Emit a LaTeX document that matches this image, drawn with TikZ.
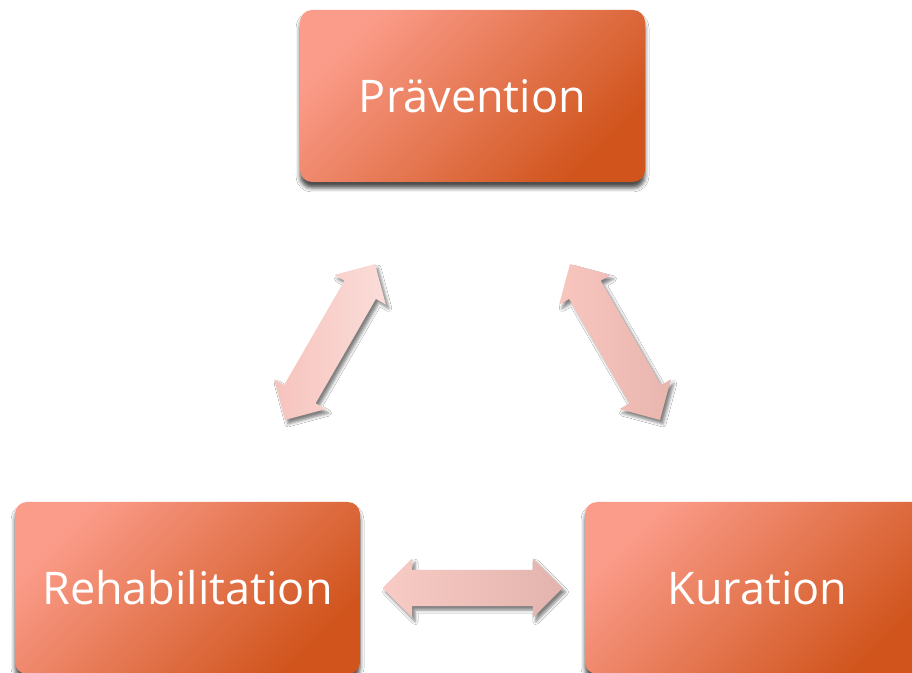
\documentclass[tikz,border=0pt]{standalone}
\usepackage{fontspec}
\setsansfont{Open Sans}
\usetikzlibrary{calc,shapes.arrows,shadows.blur}
\definecolor{boxlight}{HTML}{FB9C8A}
\definecolor{boxmid}{HTML}{F47C5E}
\definecolor{boxdark}{HTML}{D0541C}
\definecolor{arrA}{HTML}{F6C3BD}
\definecolor{arrB}{HTML}{FBDDD9}
\definecolor{arrC}{HTML}{F8C6BF}
\definecolor{arrD}{HTML}{E8B6AF}
\definecolor{arrE}{HTML}{F9CBC5}
\definecolor{arrF}{HTML}{E3B4AE}
\tikzset{
  phasebox/.style = {rectangle, rounded corners=12pt, minimum width=345pt,
    minimum height=172pt, inner sep=0pt, text=white,
    font=\sffamily\fontsize{45}{54}\selectfont,
    top color=boxlight, middle color=boxmid, bottom color=boxdark,
    shading angle=45,
    blur shadow={shadow xshift=0pt, shadow yshift=-6pt,
      shadow blur radius=4pt, shadow opacity=70}},% Kasten der Phase
  dblarr/.style = {double arrow, double arrow head extend=11.5pt,
    minimum height=180pt, minimum width=59pt, inner sep=0pt,
    text height=18pt, text depth=18pt,
    blur shadow={shadow xshift=3pt, shadow yshift=-4pt,
      shadow blur radius=3pt, shadow opacity=50}}% dicker Doppelpfeil
}

\begin{document}
\begin{tikzpicture}[x=1pt,y=1pt]
  \useasboundingbox (0,0) rectangle (912,672);
  \clip (0,0) rectangle (912,672);
  \fill[white] (0,0) rectangle (912,672);
  \node [phasebox] (prev) at (472.5,576) {Prävention};
  \node [phasebox] (reha) at (187.5,84) {Rehabilitation};
  \node [phasebox] (kura) at (757.5,84) {Kuration};
  % Doppelpfeile zwischen den Phasen
  \node [dblarr, rotate=60, left color=arrA, right color=arrB]
    (pf_rp) at ($(reha)!0.5!(prev)$) {};
  \node [dblarr, rotate=-60, left color=arrC, right color=arrD]
    (pf_pk) at ($(prev)!0.5!(kura)$) {};
  \node [dblarr, left color=arrE, right color=arrF]
    (pf_rk) at ($(reha)!0.5!(kura)$) {};
\end{tikzpicture}
\end{document}
